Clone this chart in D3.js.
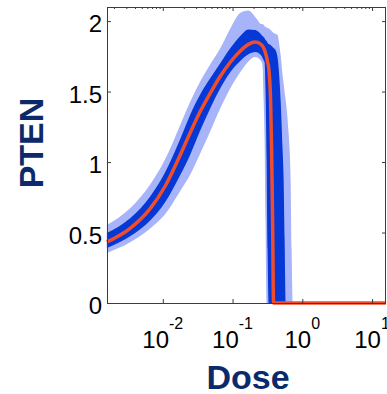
<!DOCTYPE html>
<html>
<head>
<meta charset="utf-8">
<script src="https://cdn.jsdelivr.net/npm/d3@7"></script>
<style>
  html, body { margin: 0; padding: 0; background: #fff; }
  svg { display: block; }
  .tick-label { font-family: "Liberation Sans", Arial, sans-serif; font-size: 24px; fill: #000; }
  .axis-title { font-family: "Liberation Sans", Arial, sans-serif; font-weight: bold; font-size: 34px; fill: #0b2a6b; }
</style>
</head>
<body>
<svg id="chart" width="387" height="394"></svg>
<script>
// dose grid (x) and the five curves
var dose = [0.00158, 0.0034, 0.00659, 0.01084, 0.01778, 0.0248, 0.0345, 0.0481, 0.067, 0.0933,
  0.130, 0.169, 0.213, 0.261, 0.269, 0.279, 0.288, 0.297, 0.308, 0.318,
  0.329, 0.351, 0.363, 0.375, 0.387, 0.414, 0.443, 0.457, 0.489, 0.522,
  0.540, 0.558, 0.577, 0.637, 0.681, 0.703, 0.728, 15.8];

var lightUpper = [0.554, 0.672, 0.840, 1.021, 1.263, 1.430, 1.573, 1.696, 1.809, 1.950,
  2.060, 2.075, 2.028, 1.979, 1.979, 1.972, 1.965, 1.957, 1.957, 1.950,
  1.950, 1.936, 1.929, 1.922, 1.915, 1.908, 1.901, 1.865, 1.759, 1.617,
  1.553, 1.496, 1.440, 1.206, 0.851, 0.376, 0, 0];

var darkUpper = [0.497, 0.601, 0.755, 0.929, 1.163, 1.338, 1.481, 1.596, 1.702, 1.809,
  1.896, 1.941, 1.936, 1.901, 1.894, 1.887, 1.879, 1.865, 1.858, 1.844,
  1.837, 1.830, 1.823, 1.816, 1.809, 1.794, 1.738, 1.674, 1.440, 1.085,
  0.872, 0.45, 0, 0, 0, 0, 0, 0];

var median = [0.433, 0.53, 0.67, 0.83, 1.05, 1.21, 1.36, 1.49, 1.61, 1.71,
  1.79, 1.835, 1.851, 1.830, 1.823, 1.809, 1.794, 1.773, 1.745, 1.709,
  1.674, 1.440, 1.085, 0.589, 0, 0, 0, 0, 0, 0,
  0, 0, 0, 0, 0, 0, 0, 0];

var darkLower = [0.390, 0.473, 0.585, 0.717, 0.908, 1.054, 1.225, 1.384, 1.525, 1.639,
  1.719, 1.764, 1.780, 1.752, 1.738, 1.723, 1.709, 1.511, 1.014, 0.376,
  0, 0, 0, 0, 0, 0, 0, 0, 0, 0,
  0, 0, 0, 0, 0, 0, 0, 0];

var lightLower = [0.355, 0.431, 0.528, 0.631, 0.795, 0.912, 1.062, 1.220, 1.383, 1.526,
  1.641, 1.714, 1.745, 1.709, 1.681, 1.440, 1.156, 0.589, 0, 0,
  0, 0, 0, 0, 0, 0, 0, 0, 0, 0,
  0, 0, 0, 0, 0, 0, 0, 0];

var yTicks = [0, 0.5, 1, 1.5, 2];
var yTickLabels = ["0", "0.5", "1", "1.5", "2"];
var xTicks = [0.01, 0.1, 1, 10];
var xTickExps = ["-2", "-1", "0", "1"];

var svg = d3.select('#chart');
var plotLeft = 107, plotRight = 386, plotTop = 7, plotBottom = 303;

var x = d3.scaleLog().domain([Math.pow(10, -2.8), Math.pow(10, 1.2)]).range([plotLeft, plotRight]);
var y = d3.scaleLinear().domain([0, 2.1]).range([plotBottom, plotTop]);

function band(lo, hi) {
  return d3.area()
    .x(function (d, i) { return x(dose[i]); })
    .y0(function (d, i) { return y(lo[i]); })
    .y1(function (d, i) { return y(hi[i]); })
    .curve(d3.curveMonotoneX)(dose);
}

svg.append('path').attr('d', band(lightLower, lightUpper)).attr('fill', '#a7b4f9');
svg.append('path').attr('d', band(darkLower, darkUpper)).attr('fill', '#0638d6');

var line = d3.line()
  .x(function (d, i) { return x(dose[i]); })
  .y(function (d) { return y(d); })
  .curve(d3.curveMonotoneX);

svg.append('path').attr('d', line(median))
  .attr('fill', 'none').attr('stroke', '#f04e2b').attr('stroke-width', 3.5);

// axes (ticks pointing inward, MATLAB style)
var axisColor = '#3c3c3c';

function styleAxis(g) {
  g.select('.domain').remove();
  g.selectAll('.tick line').attr('stroke', axisColor);
}

svg.append('g').attr('transform', 'translate(' + plotLeft + ',0)')
  .call(d3.axisLeft(y).tickValues(yTicks).tickSize(-4).tickPadding(5)
    .tickFormat(function (d, i) { return yTickLabels[i]; }))
  .call(styleAxis)
  .call(function (g) {
    g.selectAll('text').attr('class', 'tick-label').attr('dy', '0.45em');
  });

svg.append('g').attr('transform', 'translate(' + plotRight + ',0)')
  .call(d3.axisRight(y).tickValues(yTicks).tickSize(-4).tickFormat(''))
  .call(styleAxis);

var minor = x.ticks().filter(function (d) {
  return Math.abs(Math.log10(d) - Math.round(Math.log10(d))) > 1e-6;
});

svg.append('g').attr('transform', 'translate(0,' + plotTop + ')')
  .call(d3.axisTop(x).tickValues(minor).tickSize(-2).tickFormat(''))
  .call(styleAxis);
svg.append('g').attr('transform', 'translate(0,' + plotTop + ')')
  .call(d3.axisTop(x).tickValues(xTicks).tickSize(-4).tickFormat(''))
  .call(styleAxis);
svg.append('g').attr('transform', 'translate(0,' + plotBottom + ')')
  .call(d3.axisBottom(x).tickValues(xTicks).tickSize(-4).tickFormat(''))
  .call(styleAxis);

svg.append('rect')
  .attr('x', plotLeft + 0.5).attr('y', plotTop + 0.5)
  .attr('width', plotRight - plotLeft - 1).attr('height', plotBottom - plotTop)
  .attr('fill', 'none').attr('stroke', axisColor).attr('stroke-width', 1);

// x tick labels as 10^n
xTicks.forEach(function (d, i) {
  var t = svg.append('text').attr('class', 'tick-label')
    .attr('x', x(d)).attr('y', 348).attr('text-anchor', 'middle');
  t.append('tspan').text('10');
  t.append('tspan').attr('dy', -19).attr('font-size', 16).text(xTickExps[i]);
});

svg.append('text').attr('class', 'axis-title')
  .attr('x', 248).attr('y', 389).attr('text-anchor', 'middle').text('Dose');

svg.append('text').attr('class', 'axis-title')
  .attr('transform', 'translate(43,143) rotate(-90)')
  .attr('text-anchor', 'middle').text('PTEN');
</script>
</body>
</html>
